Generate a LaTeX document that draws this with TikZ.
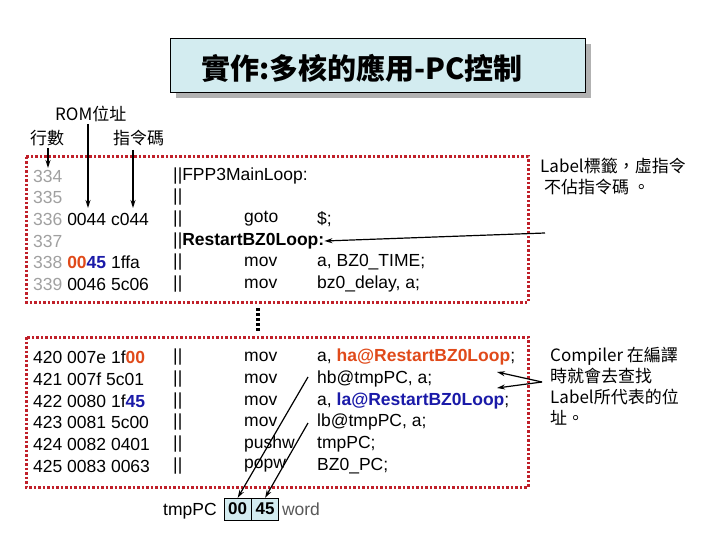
\documentclass[tikz,border=0pt]{standalone}
\usepackage{fontspec}
\setmainfont{Liberation Sans}
\newfontfamily\cjk{Noto Sans CJK TC}
\usetikzlibrary{arrows.meta,positioning}
\definecolor{titlefill}{HTML}{D3ECF0}
\definecolor{boxred}{HTML}{C0202A}
\definecolor{hiorange}{HTML}{E04A1A}
\definecolor{hiblue}{HTML}{1A1AA8}
\definecolor{lnum}{HTML}{A0A0A0}
\tikzset{
  txt/.style={anchor=west,inner sep=0pt,font=\fontsize{17.5}{21}\selectfont},
  cjktxt/.style={anchor=west,inner sep=0pt,font=\fontsize{17}{21}\selectfont\cjk},
  dotbox/.style={draw=boxred,line width=3pt,dash pattern=on 2.5pt off 2pt},
  arr/.style={-{Stealth[length=8pt,width=5pt]},line width=1.2pt},
  cell/.style={draw,fill=titlefill,minimum width=27pt,minimum height=22pt,inner sep=0pt,font=\fontsize{17}{20}\selectfont\bfseries}
}
\begin{document}
\begin{tikzpicture}[x=1pt,y=-1pt]
    \useasboundingbox (0,0) rectangle (720,540);
    % title
    \fill [gray!60] (176,44) rectangle (591,98);
    \draw [fill=titlefill] (170,38) rectangle (585,92);
    \node [font=\fontsize{29}{33}\selectfont\cjk\bfseries] (title) at (362,68) {實作:多核的應用-PC控制};
    % column labels
    \node [cjktxt] (rom) at (55,114) {ROM位址};
    \node [cjktxt] (hang) at (30,138) {行數};
    \node [cjktxt] (code) at (113,138) {指令碼};
    \coordinate (romend) at (88,208);
    \coordinate (hangend) at (48,168);
    \coordinate (codeend) at (133,208);
    \draw [arr] (88,124) -- (romend);
    \draw [arr] (48,148) -- (hangend);
    \draw [arr] (133,150) -- (codeend);
    % boxes
    \draw [dotbox] (26,157) rectangle (528,302);
    \draw [dotbox] (26,337) rectangle (528,487);
    \draw [line width=4pt,dash pattern=on 3pt off 2pt] (258,308) -- (258,331);
    % first block
    \node [txt,lnum] (l1) at (33,176) {334};
    \node [txt,lnum] (l2) at (33,197) {335};
    \node [txt] (l3) at (33,219) {\textcolor{lnum}{336} 0044 c044};
    \node [txt,lnum] (l4) at (33,241) {337};
    \node [txt] (l5) at (33,262) {\textcolor{lnum}{338} \textcolor{hiorange}{\bfseries 00}\textcolor{hiblue}{\bfseries 45} 1ffa};
    \node [txt] (l6) at (33,284) {\textcolor{lnum}{339} 0046 5c06};
    \node [txt] (c1) at (173,176) {||FPP3MainLoop:};
    \node [txt] (c2) at (173,197) {||};
    \node [txt] (c3) at (173,219) {||};
    \node [txt] (c4) at (173,241) {||\textbf{RestartBZ0Loop:}};
    \node [txt] (c5) at (173,262) {||};
    \node [txt] (c6) at (173,284) {||};
    \node [txt] (m3) at (244,219) {goto};
    \node [txt] (m5) at (244,262) {mov};
    \node [txt] (m6) at (244,284) {mov};
    \node [txt] (o3) at (317,219) {\$;};
    \node [txt] (o5) at (317,262) {a, BZ0\_TIME;};
    \node [txt] (o6) at (317,284) {bz0\_delay, a;};
    % second block
    \node [txt] (n1) at (33,357) {420 007e 1f\textcolor{hiorange}{\bfseries 00}};
    \node [txt] (n2) at (33,379) {421 007f 5c01};
    \node [txt] (n3) at (33,401) {422 0080 1f\textcolor{hiblue}{\bfseries 45}};
    \node [txt] (n4) at (33,422) {423 0081 5c00};
    \node [txt] (n5) at (33,444) {424 0082 0401};
    \node [txt] (n6) at (33,466) {425 0083 0063};
    \foreach \y [count=\i] in {357,379,401,422,444,466}
      \node [txt] (p\i) at (173,\y) {||};
    \node [txt] (q1) at (244,357) {mov};
    \node [txt] (q2) at (244,379) {mov};
    \node [txt] (q3) at (244,401) {mov};
    \node [txt] (q4) at (244,422) {mov};
    \node [txt] (q5) at (244,444) {pushw};
    \node [txt] (q6) at (244,466) {popw};
    \node [txt] (r1) at (317,357) {a, \textcolor{hiorange}{\bfseries ha@RestartBZ0Loop};};
    \node [txt] (r2) at (317,379) {hb@tmpPC, a;};
    \node [txt] (r3) at (317,401) {a, \textcolor{hiblue}{\bfseries la@RestartBZ0Loop};};
    \node [txt] (r4) at (317,422) {lb@tmpPC, a;};
    \node [txt] (r5) at (317,444) {tmpPC;};
    \node [txt] (r6) at (317,466) {BZ0\_PC;};
    % notes on the right
    \node [cjktxt,align=left,anchor=north west] (note1) at (540,158) {Label標籤，虛指令\\\ 不佔指令碼 。};
    \node [cjktxt,align=left,anchor=north west] (note2) at (550,347) {Compiler 在編譯\\時就會去查找\\Label所代表的位\\址。};
    \coordinate (n1from) at (545,233);
    \coordinate (n2from) at (542,382);
    \coordinate (tip1) at (497,372);
    \coordinate (tip2) at (497,388);
    \draw [arr] (n1from) -- (c4.east);
    \draw [arr] (n2from) -- (tip1);
    \draw [arr] (n2from) -- (tip2);
    % tmpPC word
    \node [txt] (tmppc) at (163,511) {tmpPC};
    \node [cell,anchor=west] (hi) at (224,509) {00};
    \node [cell,right=0pt of hi] (lo) {45};
    \node [txt,gray!70!black,right=3pt of lo] (word) {word};
    \coordinate (hbfrom) at (308,377);
    \coordinate (lbfrom) at (308,423);
    \draw [arr] (hbfrom) -- (hi.north);
    \draw [arr] (lbfrom) -- (lo.north);
\end{tikzpicture}
\end{document}
